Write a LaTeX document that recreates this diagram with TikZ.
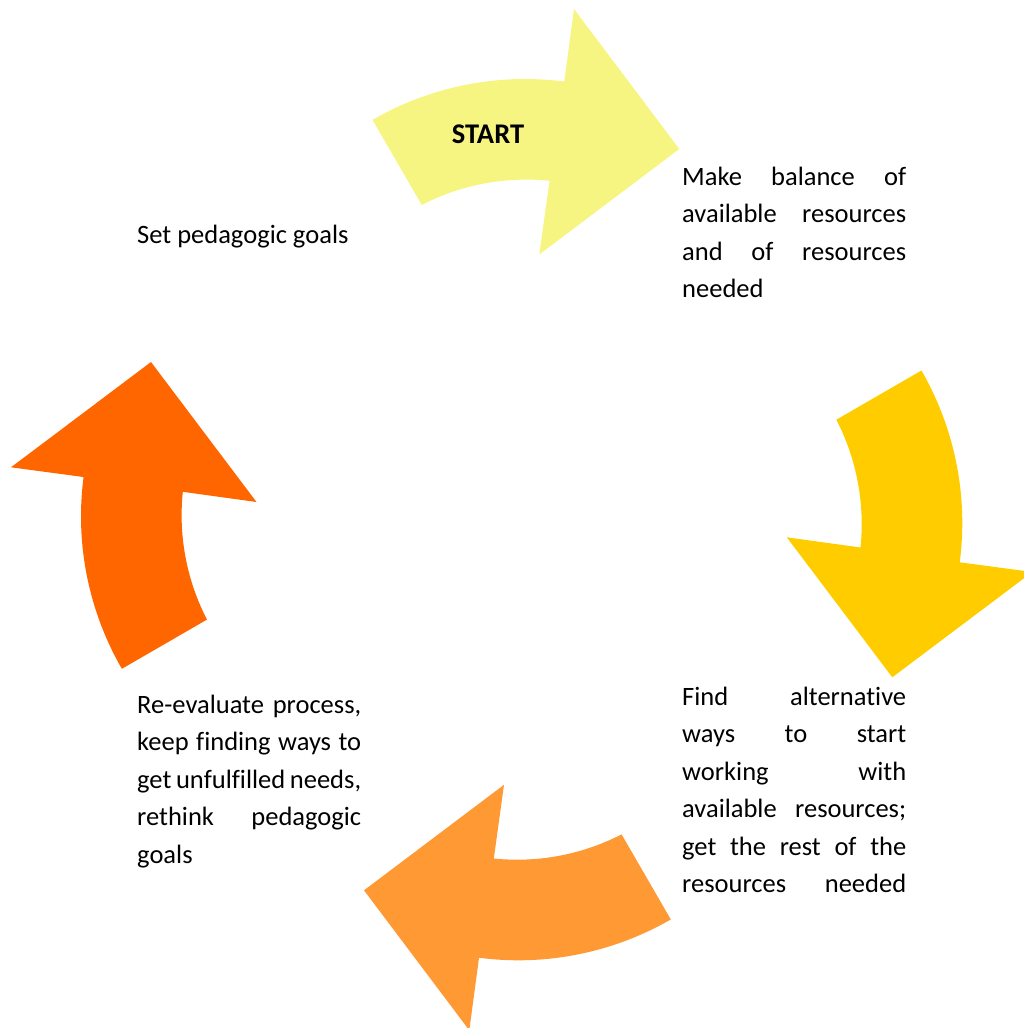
\documentclass[tikz,border=0pt]{standalone}
\usepackage{fontspec}
\setmainfont{Carlito}[Ligatures=NoCommon]
\definecolor{ayellow}{RGB}{247,245,130}
\definecolor{agold}{RGB}{255,204,0}
\definecolor{aorange}{RGB}{255,153,51}
\definecolor{ared}{RGB}{255,102,0}
\tikzset{
  labeltext/.style={anchor=base west, inner sep=0pt, font=\fontsize{26.5}{37.5}\selectfont},
}
\begin{document}
\begin{tikzpicture}[x=1pt,y=-1pt]
\useasboundingbox (0,0) rectangle (1023,1028);
\foreach \ang/\col in {0/ayellow,-90/agold,-180/aorange,-270/ared}{
  \fill[\col, rotate around={\ang:(521.65,519.65)}]
      plot[domain=-120:-82.6,samples=40] ({525+305*cos(\x)},{384+305*sin(\x)})
      -- (574,9) -- (679.3,149) -- (539.3,254.5)
      -- plot[domain=-84.1:-117.3,samples=40] ({526.1+227.6*cos(\x)},{407.2+227.6*sin(\x)})
      -- cycle;
}

\node[labeltext, anchor=base, font=\fontsize{28.5}{37.5}\selectfont\bfseries] (start) at (488,143.3) {START};
\node[labeltext] (goals) at (137,243.3) {Set pedagogic goals};
\node[labeltext] (balance) at (682,185) {\parbox[t]{224pt}{%
Make\hfill balance\hfill of\\
available\hfill resources\\
and\hfill of\hfill resources\\
needed}};
\node[labeltext] (find) at (682,705) {\parbox[t]{224pt}{%
Find\hfill alternative\\
ways\hfill to\hfill start\\
working\hfill with\\
available\hfill resources;\\
get\hfill the\hfill rest\hfill of\hfill the\\
resources\hfill needed}};
\node[labeltext] (reeval) at (137,713.3) {\parbox[t]{224pt}{%
Re-evaluate\hfill process,\\
keep\hfill finding\hfill ways\hfill to\\
get unfulfilled needs,\\
rethink\hfill pedagogic\\
goals}};
\end{tikzpicture}
\end{document}
